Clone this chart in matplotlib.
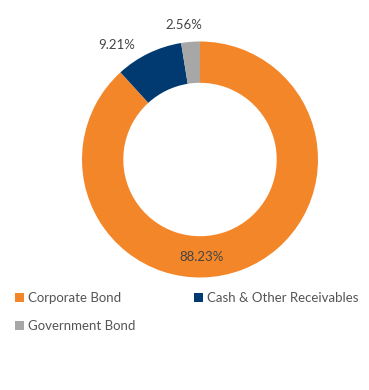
import matplotlib
matplotlib.use("Agg")
import matplotlib.pyplot as plt
import numpy as np
from matplotlib.patches import Patch

plt.rcParams["font.family"] = ["Lato", "DejaVu Sans"]

labels = ["Corporate Bond", "Cash & Other Receivables", "Government Bond"]
values = [88.23, 9.21, 2.56]
colors = ["#F4862A", "#003A70", "#A7A7A7"]
label_radius = [0.826, 1.198, 1.148]
label_shift = [-20.3, 10.1, 2.4]  # degrees off the wedge middle

W, H = 369, 390
fig = plt.figure(figsize=(W / 100, H / 100), dpi=100)
ax = fig.add_axes([82 / W, (H - 277.5) / H, 236 / W, 236 / H])

wedges, _ = ax.pie(values, colors=colors, startangle=90, counterclock=False,
                   radius=1.0, wedgeprops=dict(width=0.35, linewidth=0))
ax.set_xlim(-1, 1)
ax.set_ylim(-1, 1)
ax.set_aspect("equal")
ax.axis("off")

for w, v, r, s in zip(wedges, values, label_radius, label_shift):
    ang = np.deg2rad((w.theta1 + w.theta2) / 2 + s)
    ax.text(r * np.cos(ang), r * np.sin(ang), f"{v:.2f}%", ha="center",
            va="center", fontsize=9.5, color="#444444")

# legend fills column-wise, reorder so rows read like the reference
order = [0, 2, 1]
handles = [Patch(facecolor=colors[i], edgecolor="none") for i in order]
fig.legend(handles, [labels[i] for i in order], loc="upper left",
           bbox_to_anchor=(3 / W, 1 - 280 / H),
           ncol=2, frameon=False, fontsize=9.5, labelcolor="#555555",
           handlelength=0.7, handleheight=0.7, handletextpad=0.3,
           columnspacing=4.4, labelspacing=1.25)

fig.savefig("out.png", dpi=100)
